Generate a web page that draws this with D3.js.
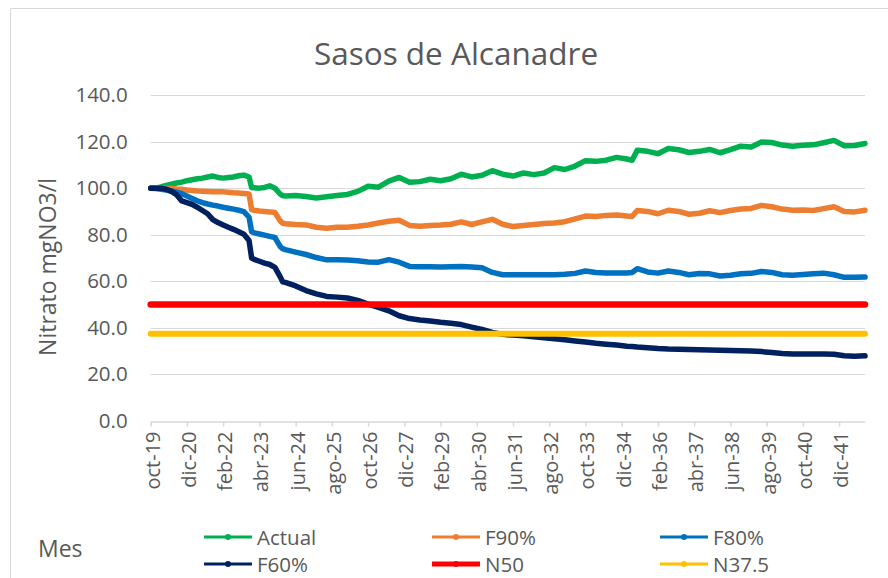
<!DOCTYPE html>
<html><head><meta charset="utf-8">
<script src="https://cdn.jsdelivr.net/npm/d3@7"></script>
<style>
body{margin:0;background:#fff;}
svg{display:block;font-family:"Open Sans",sans-serif;}
</style>
</head><body>
<svg width="888" height="578"></svg>
<script>
// month index counted from oct-2019
const months = [0,2,4,6,8,10,12,14,16,18,20,22,24,26,28,30,32,34,36,38,
  39,40,42,44,46,48,50,51,
  52,56,60,64,68,72,76,80,84,88,92,96,100,104,108,112,116,120,124,128,132,136,140,144,148,152,156,160,164,168,172,176,180,184,
  186,188,
  192,196,200,204,208,212,216,220,224,228,232,236,240,244,248,252,256,260,264,268,272,276];

const actual = [100,100,100.5,101.2,101.7,102.2,102.6,103.2,103.6,104,104.3,104.8,105.2,104.6,104.3,104.6,104.8,105.3,105.6,104.8,
  100.2,100.2,100,100.3,101,100,97.5,96.8,
  96.6,96.8,96.4,95.8,96.3,96.8,97.3,98.6,100.8,100.4,103,104.6,102.5,102.8,103.8,103.2,104,106,104.8,105.5,107.5,106,105.2,106.5,105.8,106.5,108.8,108,109.5,111.8,111.5,112,113.2,112.5,
  112,116.3,
  115.8,114.8,117,116.5,115.3,115.8,116.6,115.2,116.5,118,117.7,119.8,119.6,118.5,118,118.4,118.6,119.5,120.5,118.2,118.3,119.2];

const f90 = [100,100,100,100,99.8,99.6,99.5,99.2,99,98.8,98.7,98.6,98.5,98.5,98.4,98.2,98,97.9,97.7,97.5,
  90.8,90.5,90.2,90,89.8,89.5,86,84.9,
  84.7,84.4,84.2,83.2,82.8,83.2,83.2,83.6,84.2,85,85.8,86.2,84,83.6,84,84.2,84.5,85.5,84.4,85.5,86.6,84.5,83.5,84,84.4,84.8,85,85.6,86.8,88,87.8,88.3,88.5,88,
  87.8,90.4,
  90,89,90.5,90,88.8,89.2,90.3,89.5,90.4,91,91.3,92.6,92,91,90.5,90.6,90.4,91.2,92,90,89.8,90.5];

const f80 = [100,99.8,99.5,99.2,98.8,98.3,97.6,96.6,95.6,94.6,93.8,93.2,92.7,92.3,91.8,91.4,91,90.5,89.9,87.5,
  81.3,80.8,80.3,79.8,79.3,78.8,75,74,
  73.6,72.5,71.5,70.2,69.2,69.3,69.1,68.8,68.3,68.2,69.3,68.2,66.4,66.2,66.2,66.1,66.2,66.3,66.1,65.8,63.8,62.8,62.8,62.8,62.8,62.8,62.8,63,63.4,64.4,63.8,63.6,63.6,63.6,
  63.8,65.4,
  64,63.5,64.4,63.8,62.8,63.3,63.2,62.3,62.6,63.2,63.4,64.2,63.8,62.8,62.6,62.9,63.2,63.5,62.8,61.7,61.7,61.8];

const f60 = [100,100,100,99.5,98.6,97.2,94.5,93.8,93,91.8,90.4,89,86.5,85.2,84.2,83.2,82.3,81.3,80.2,77.5,
  70,69.4,68.6,67.8,67.2,66,62,59.8,
  59.5,58,56,54.6,53.5,53.2,52.8,51.8,50.2,48.8,47.3,45.2,44,43.4,42.9,42.4,42,41.4,40.3,39.3,38,37.2,36.9,36.6,36.2,35.7,35.3,34.9,34.4,33.9,33.4,33,32.6,32.1,
  32,31.8,
  31.5,31.1,30.9,30.8,30.7,30.6,30.5,30.4,30.3,30.2,30.1,29.8,29.4,29,28.8,28.8,28.8,28.8,28.7,28,27.8,28];

const limitMonths = [0, 276];
const n50 = [50, 50];
const n375 = [37.5, 37.5];

const tickLabels = ["oct-19","dic-20","feb-22","abr-23","jun-24","ago-25","oct-26","dic-27","feb-29","abr-30",
  "jun-31","ago-32","oct-33","dic-34","feb-36","abr-37","jun-38","ago-39","oct-40","dic-41"];
const tickStep = 14;
const yTicks = [0,20,40,60,80,100,120,140];

const seriesNames = ["Actual","F90%","F80%","F60%","N50","N37.5"];
const colors = {"Actual":"#00B050","F90%":"#ED7D31","F80%":"#0070C0","F60%":"#002060","N50":"#FF0000","N37.5":"#FFC000"};

const svg = d3.select("svg");
const textColor = "#595959";
const gridColor = "#D9D9D9";

// chart border
svg.append("path").attr("d","M10.5,578 V8.5 H888").attr("fill","none").attr("stroke",gridColor).attr("stroke-width",1);

const x = d3.scaleLinear().domain([0, 276]).range([150.7, 865]);
const y = d3.scaleLinear().domain([0, 140]).range([421, 95]);

// title
svg.append("text").attr("x",456).attr("y",65).attr("text-anchor","middle")
  .attr("font-size",31.5).attr("fill",textColor).text("Sasos de Alcanadre");

// gridlines
svg.append("g").selectAll("line").data(yTicks.filter(v=>v>0)).join("line")
  .attr("x1",x.range()[0]).attr("x2",x.range()[1])
  .attr("y1",d=>Math.round(y(d))+0.5).attr("y2",d=>Math.round(y(d))+0.5)
  .attr("stroke",gridColor).attr("stroke-width",1);

// y axis
const yAxis = svg.append("g").attr("transform",`translate(${x.range()[0]},0)`)
  .call(d3.axisLeft(y).tickValues(yTicks).tickFormat(d3.format(".1f")).tickSize(0).tickPadding(23));
yAxis.select(".domain").remove();
yAxis.selectAll("text").attr("font-size",20.5).attr("fill",textColor).attr("font-family","Open Sans");

// x axis
const tickMonths = tickLabels.map((d,i)=>i*tickStep);
const xAxis = svg.append("g").attr("transform",`translate(0,${Math.round(y(0))+0.5})`)
  .call(d3.axisBottom(x).tickValues(tickMonths).tickFormat((d,i)=>tickLabels[i]).tickSize(5).tickSizeOuter(0));
xAxis.select(".domain").attr("stroke",gridColor).attr("stroke-width",1.5);
xAxis.selectAll(".tick line").attr("stroke",gridColor).attr("stroke-width",1.5);
xAxis.selectAll("text").attr("font-size",20).attr("fill",textColor).attr("font-family","Open Sans")
  .attr("transform","rotate(-90)").attr("text-anchor","end")
  .attr("x",-10).attr("y",0).attr("dy","0.42em");

// axis titles
svg.append("text").attr("transform","translate(47,267) rotate(-90)").attr("text-anchor","middle")
  .attr("dominant-baseline","central").attr("font-size",23).attr("fill",textColor).text("Nitrato mgNO3/l");
svg.append("text").attr("x",38).attr("y",548).attr("dominant-baseline","central")
  .attr("font-size",23).attr("fill",textColor).text("Mes");

// lines
const line = d3.line().x(d=>x(d[0])).y(d=>y(d[1])).curve(d3.curveLinear);
const seriesData = [
  {name:"Actual", m:months, v:actual, w:5.5},
  {name:"F90%", m:months, v:f90, w:5.5},
  {name:"F80%", m:months, v:f80, w:5.5},
  {name:"F60%", m:months, v:f60, w:5.5},
  {name:"N50", m:limitMonths, v:n50, w:6.5},
  {name:"N37.5", m:limitMonths, v:n375, w:6}
];
svg.append("g").selectAll("path").data(seriesData).join("path")
  .attr("d",s=>line(s.m.map((mm,i)=>[mm,s.v[i]])))
  .attr("fill","none").attr("stroke",s=>colors[s.name]).attr("stroke-width",s=>s.w)
  .attr("stroke-linejoin","round").attr("stroke-linecap","round");

// legend
const legendCols = [204,432,660];
const legendRows = [537,564];
const lg = svg.append("g").selectAll("g").data(seriesNames).join("g")
  .attr("transform",(d,i)=>`translate(${legendCols[i%3]},${legendRows[Math.floor(i/3)]})`);
lg.append("line").attr("x1",0).attr("x2",48).attr("y1",0).attr("y2",0)
  .attr("stroke",d=>colors[d]).attr("stroke-width",d=>d==="N50"?5:3);
lg.append("circle").attr("cx",24).attr("cy",0).attr("r",3).attr("fill",d=>colors[d]);
lg.append("text").attr("x",53).attr("y",0).attr("dominant-baseline","central")
  .attr("font-size",20.5).attr("fill",textColor).text(d=>d);
</script>
</body></html>
